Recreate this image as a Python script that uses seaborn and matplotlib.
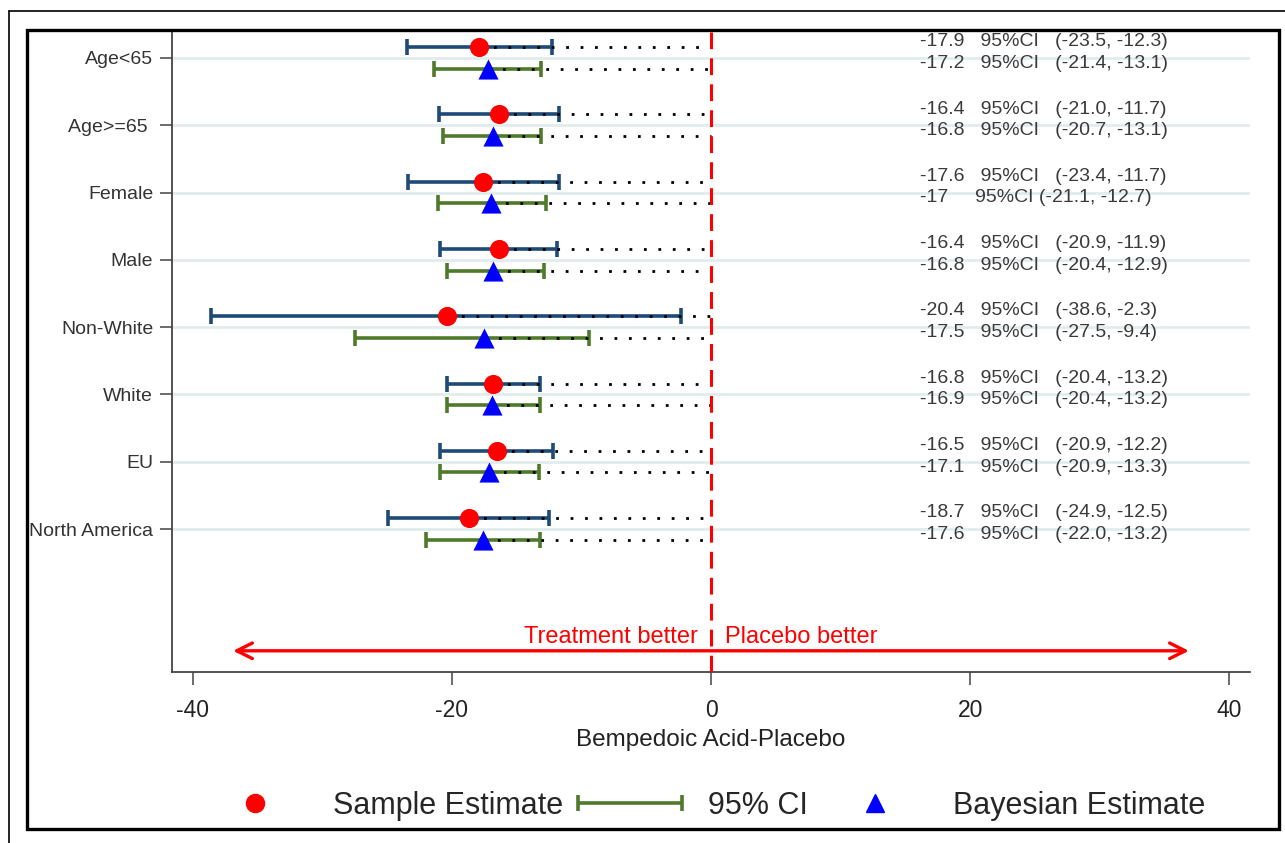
import matplotlib
matplotlib.use("Agg")
import numpy as np
import pandas as pd
import matplotlib.pyplot as plt
import seaborn as sns
from matplotlib.lines import Line2D
from matplotlib.patches import Rectangle
from matplotlib.legend_handler import HandlerErrorbar

# Dados
groups = ["Age<65", "Age>=65 ", "Female", "Male", "Non-White", "White", "EU", "North America"]

sample_est = [-17.9, -16.4, -17.6, -16.4, -20.4, -16.8, -16.5, -18.7]
sample_lo = [-23.5, -21.0, -23.4, -20.9, -38.6, -20.4, -20.9, -24.9]
sample_hi = [-12.3, -11.7, -11.7, -11.9, -2.3, -13.2, -12.2, -12.5]

bayes_est = [-17.2, -16.8, -17, -16.8, -17.5, -16.9, -17.1, -17.6]
bayes_lo = [-21.4, -20.7, -21.1, -20.4, -27.5, -20.4, -20.9, -22.0]
bayes_hi = [-13.1, -13.1, -12.7, -12.9, -9.4, -13.2, -13.3, -13.2]

x_ticks = [-40, -20, 0, 20, 40]

BLUE_CI = "#1d4a77"
GREEN_CI = "#4f7a2b"
GRID = "#e2ecee"
TXT = "#3a3a3a"

sns.set_theme(style="white")
plt.rcParams["font.family"] = ["Liberation Sans", "DejaVu Sans"]

W, H = 1285, 843
fig = plt.figure(figsize=(W / 100, H / 100), dpi=100)
ax = fig.add_axes([172 / W, (H - 672) / H, (1250 - 172) / W, (672 - 32) / H])

pos = np.arange(len(groups))
off = 0.16
df_s = pd.DataFrame({"est": sample_est, "lo": sample_lo, "hi": sample_hi, "y": pos - off})
df_b = pd.DataFrame({"est": bayes_est, "lo": bayes_lo, "hi": bayes_hi, "y": pos + off})

# Intervalos de confiança
ax.errorbar(df_s["est"], df_s["y"], xerr=[df_s["est"] - df_s["lo"], df_s["hi"] - df_s["est"]],
            fmt="none", ecolor=BLUE_CI, elinewidth=2.6, capsize=6, capthick=2.6, zorder=2)
ci_b = ax.errorbar(df_b["est"], df_b["y"], xerr=[df_b["est"] - df_b["lo"], df_b["hi"] - df_b["est"]],
                   fmt="none", ecolor=GREEN_CI, elinewidth=2.6, capsize=6, capthick=2.6, zorder=2)

# Linhas pontilhadas até o zero
for df in (df_s, df_b):
    for e, y in zip(df["est"], df["y"]):
        ax.plot([e, 0], [y, y], color="black", lw=2, linestyle=(0, (1, 4.2)), zorder=3)

ax.axvline(0, color="red", lw=2.2, dashes=(5.5, 3), zorder=3)

# Estimativas
sns.scatterplot(data=df_s, x="est", y="y", marker="o", s=190, color="red", linewidth=0,
                ax=ax, zorder=4, legend=False)
sns.scatterplot(data=df_b, x="est", y="y", marker="^", s=210, color="blue", linewidth=0,
                ax=ax, zorder=4, legend=False)

# Textos com valores
for df in (df_s, df_b):
    for e, lo, hi, y in zip(df["est"], df["lo"], df["hi"], df["y"]):
        num = f"{e:g}"
        ci = f"({lo:.1f}, {hi:.1f})"
        if "." in num:
            lab = num + "   95%CI   " + ci
        else:
            lab = num + "     95%CI " + ci
        ax.text(16.1, y - 0.08, lab, ha="left", va="center", fontsize=14, color=TXT)

# Seta inferior
y_arrow = 8.81
ax.annotate("", xy=(-37.1, y_arrow), xytext=(37.1, y_arrow),
            arrowprops=dict(arrowstyle="<->", color="red", lw=2.4, mutation_scale=28))
ax.text(-1.0, 8.6, "Treatment better", ha="right", va="center", fontsize=17, color="red")
ax.text(1.1, 8.6, "Placebo better", ha="left", va="center", fontsize=17, color="red")

ax.set_ylim(9.125, -0.386)
ax.set_yticks(pos)
ax.set_yticklabels(groups, fontsize=14, color="#333333")
ax.set_xlim(-41.6, 41.6)
ax.set_xticks(x_ticks)
ax.set_xticklabels([str(t) for t in x_ticks], fontsize=16.5, color="#222222")
ax.set_xlabel("Bempedoic Acid-Placebo", fontsize=17.5, color="#222222", labelpad=5)
ax.set_ylabel("")

ax.grid(axis="y", color=GRID, lw=2)
ax.grid(axis="x", visible=False)
ax.set_axisbelow(True)
ax.tick_params(axis="y", left=True, length=8.5, width=1.1, color="#444444", pad=5)
ax.tick_params(axis="x", bottom=True, length=9.4, width=1.1, color="#444444", pad=10)
for side in ("top", "right"):
    ax.spines[side].set_visible(False)
for side in ("left", "bottom"):
    ax.spines[side].set_color("#444444")
    ax.spines[side].set_linewidth(1.3)

# Legenda
h_dot = Line2D([], [], marker="o", color="red", ls="none", markersize=13)
h_tri = Line2D([], [], marker="^", color="blue", ls="none", markersize=13)
fig.legend([h_dot, ci_b, h_tri], ["Sample Estimate", "95% CI", "Bayesian Estimate"],
           loc="center", bbox_to_anchor=(0.548, (H - 806) / H), ncol=3, frameon=False,
           fontsize=22, handlelength=3.4, handletextpad=0.85, columnspacing=0.5, borderpad=0,
           handler_map={ci_b: HandlerErrorbar(xerr_size=1.7)})

# Molduras
fig.add_artist(Rectangle((27 / W, (H - 829) / H), (1279 - 27) / W, (829 - 30) / H,
                         transform=fig.transFigure, fill=False, lw=2.4, ec="black"))
fig.add_artist(Line2D([9 / W, 1], [1 - 11 / H] * 2, transform=fig.transFigure, color="black", lw=1.2))
fig.add_artist(Line2D([9 / W] * 2, [0, 1 - 11 / H], transform=fig.transFigure, color="black", lw=1.2))

fig.savefig("out.png", dpi=100)
plt.close(fig)
